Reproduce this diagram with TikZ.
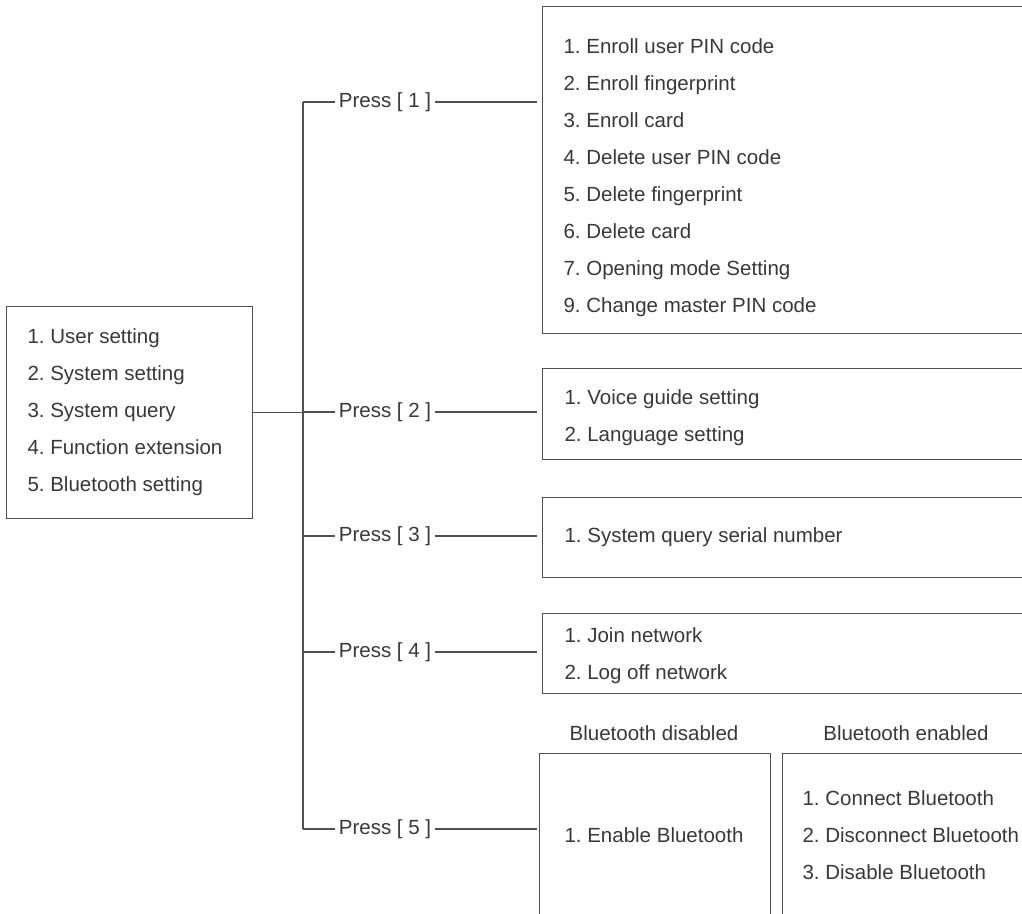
\documentclass[tikz,border=0pt]{standalone}
\usepackage{fontspec}
\setmainfont{Liberation Sans}
\frenchspacing
\definecolor{linegray}{HTML}{505050}
\definecolor{textgray}{HTML}{383838}
\begin{document}
\begin{tikzpicture}[x=1pt, y=-1pt, line width=1.1pt, color=linegray, text=textgray,
    font=\fontsize{20.5}{24}\selectfont,
    menubox/.style={draw, anchor=north west, inner sep=0pt},
    item/.style={anchor=base west, inner sep=0pt},
    press/.style={text height=14pt, text depth=4pt, inner xsep=3pt, inner ysep=0pt}]
    \useasboundingbox (0,0) rectangle (1022,913);
    \clip (0,0) rectangle (1022,913);

    % main menu
    \node[menubox, minimum width=246pt, minimum height=212pt] (M) at (6,306) {};
    \node[item] (M1) at (27,343) {1. User setting};
    \node[item] (M2) at (27,380) {2. System setting};
    \node[item] (M3) at (27,417) {3. System query};
    \node[item] (M4) at (27,454) {4. Function extension};
    \node[item] (M5) at (27,491) {5. Bluetooth setting};

    % keys
    \coordinate (T1) at (303,102);
    \coordinate (T5) at (303,829);
    \node[press] (P1) at (385,102) {Press [ 1 ]};
    \node[press] (P2) at (385,412) {Press [ 2 ]};
    \node[press] (P3) at (385,536) {Press [ 3 ]};
    \node[press] (P4) at (385,652) {Press [ 4 ]};
    \node[press] (P5) at (385,829) {Press [ 5 ]};

    % user setting
    \node[menubox, minimum width=560pt, minimum height=327pt] (B1) at (542,6) {};
    \node[item] (B1-1) at (563,53) {1. Enroll user PIN code};
    \node[item] (B1-2) at (563,90) {2. Enroll fingerprint};
    \node[item] (B1-3) at (563,127) {3. Enroll card};
    \node[item] (B1-4) at (563,164) {4. Delete user PIN code};
    \node[item] (B1-5) at (563,201) {5. Delete fingerprint};
    \node[item] (B1-6) at (563,238) {6. Delete card};
    \node[item] (B1-7) at (563,275) {7. Opening mode Setting};
    \node[item] (B1-8) at (563,312) {9. Change master PIN code};

    % system setting
    \node[menubox, minimum width=560pt, minimum height=91pt] (B2) at (542,368) {};
    \node[item] (B2-1) at (564,404) {1. Voice guide setting};
    \node[item] (B2-2) at (564,441) {2. Language setting};

    % system query
    \node[menubox, minimum width=560pt, minimum height=80pt] (B3) at (542,497) {};
    \node[item] (B3-1) at (564,542) {1. System query serial number};

    % function extension
    \node[menubox, minimum width=560pt, minimum height=80pt] (B4) at (542,613) {};
    \node[item] (B4-1) at (564,642) {1. Join network};
    \node[item] (B4-2) at (564,679) {2. Log off network};

    % bluetooth
    \node (L5) at (654,733) {Bluetooth disabled};
    \node (L6) at (906,733) {Bluetooth enabled};
    \node[menubox, minimum width=231pt, minimum height=200pt] (B5) at (539,753) {};
    \node (B5-1) at (654,835) {1. Enable Bluetooth};
    \node[menubox, minimum width=300pt, minimum height=200pt] (B6) at (782,753) {};
    \node[item] (B6-1) at (802,805) {1. Connect Bluetooth};
    \node[item] (B6-2) at (802,842) {2. Disconnect Bluetooth};
    \node[item] (B6-3) at (802,879) {3. Disable Bluetooth};

    \path [-] (M.east) edge (M.east -| T1);
    \path [-] (T1) edge (T5);
    \path [-] (T1) edge (P1.west);
    \path [-] (P2.west -| T1) edge (P2.west);
    \path [-] (P3.west -| T1) edge (P3.west);
    \path [-] (P4.west -| T1) edge (P4.west);
    \path [-] (T5) edge (P5.west);
    \path [-] (P1.east) edge[shorten >=5pt] (P1.east -| B1.west);
    \path [-] (P2.east) edge[shorten >=5pt] (P2.east -| B2.west);
    \path [-] (P3.east) edge[shorten >=5pt] (P3.east -| B3.west);
    \path [-] (P4.east) edge[shorten >=5pt] (P4.east -| B4.west);
    \path [-] (P5.east) edge[shorten >=2pt] (P5.east -| B5.west);
\end{tikzpicture}
\end{document}
